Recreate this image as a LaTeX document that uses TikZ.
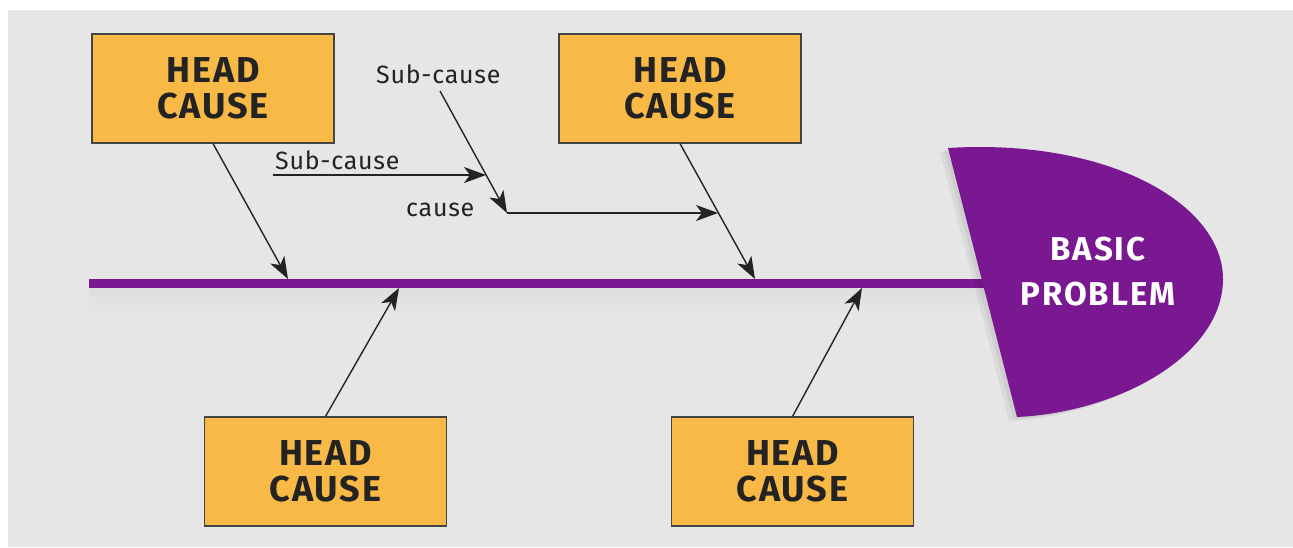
\documentclass[tikz,border=0pt]{standalone}
\usepackage{fontspec}
\setmainfont{Fira Sans}[LetterSpace=5]
\usetikzlibrary{arrows.meta}
\definecolor{bgc}{RGB}{230,230,230}
\definecolor{boxc}{RGB}{249,185,70}
\definecolor{purp}{RGB}{122,24,145}
\definecolor{ink}{RGB}{35,35,35}
\begin{document}
\begin{tikzpicture}[x=1pt,y=-1pt,
  causebox/.style={draw=ink!85, line width=1.1pt, fill=boxc, minimum width=242pt, minimum height=109pt, inner sep=0pt, align=center, font=\fontsize{36}{36}\selectfont\bfseries, text=ink},
  sublabel/.style={font=\fontsize{25}{25}\selectfont\addfontfeatures{LetterSpace=3}, text=ink, inner sep=0pt, anchor=base west},
  arr/.style={draw=ink, line width=1.4pt, -{Stealth[length=22pt,width=16pt,inset=6pt]}},
]
\useasboundingbox (0,0) rectangle (1293,547);
\fill[white] (0,0) rectangle (1293,547);
\fill[bgc] (8,10) rectangle (1293,547);
% spine shadow
\shade[top color=black!13, bottom color=bgc] (89,288) rectangle (985,312);
% spine
\coordinate (sp0) at (89,283.5);
\coordinate (sp1) at (990,283.5);
\draw[purp, line width=9pt] (sp0) -- (sp1);
% head shadow
\fill[black, opacity=0.05] (940,152) .. controls (1102,142) and (1216,209) .. (1215,284) .. controls (1214,359) and (1112,416) .. (1009,421) -- cycle;
\fill[black, opacity=0.05] (944,150) .. controls (1106,140) and (1220,207) .. (1219,282) .. controls (1218,357) and (1116,414) .. (1013,419) -- cycle;
% head
\fill[purp] (948,148) .. controls (1110,138) and (1224,205) .. (1223,280) .. controls (1222,355) and (1120,412) .. (1017,417) -- cycle;
\node[font=\fontsize{33}{45}\selectfont\bfseries\addfontfeatures{LetterSpace=6}, text=white, align=center, inner sep=0pt] (prob) at (1098,272) {BASIC\\PROBLEM};
% cause boxes
\node[causebox] (c1) at (213,88.5) {HEAD\\CAUSE};
\node[causebox] (c2) at (680,88.5) {HEAD\\CAUSE};
\node[causebox] (c3) at (325.5,471.5) {HEAD\\CAUSE};
\node[causebox] (c4) at (792.5,471.5) {HEAD\\CAUSE};
% tips on spine
\coordinate (t1) at (288,279);
\coordinate (t2) at (755,279);
\coordinate (t3) at (399,288);
\coordinate (t4) at (862,288);
\draw[arr] (c1.south) -- (t1);
\draw[arr] (c2.south) -- (t2);
\draw[arr] (c3.north) -- (t3);
\draw[arr] (c4.north) -- (t4);
% sub-causes
\node[sublabel] (s1) at (376,83) {Sub-cause};
\node[sublabel] (s2) at (275,169) {Sub-cause};
\node[sublabel] (s3) at (406,216) {cause};
\coordinate (d0) at (440,91);
\coordinate (d1) at (507,213);
\coordinate (h0) at (273,175);
\coordinate (h1) at (486,175);
\coordinate (k1) at (718,213);
\draw[arr] (h0) -- (h1);
\draw[arr] (d0) -- (d1);
\draw[arr] (d1) -- (k1);
\end{tikzpicture}
\end{document}
